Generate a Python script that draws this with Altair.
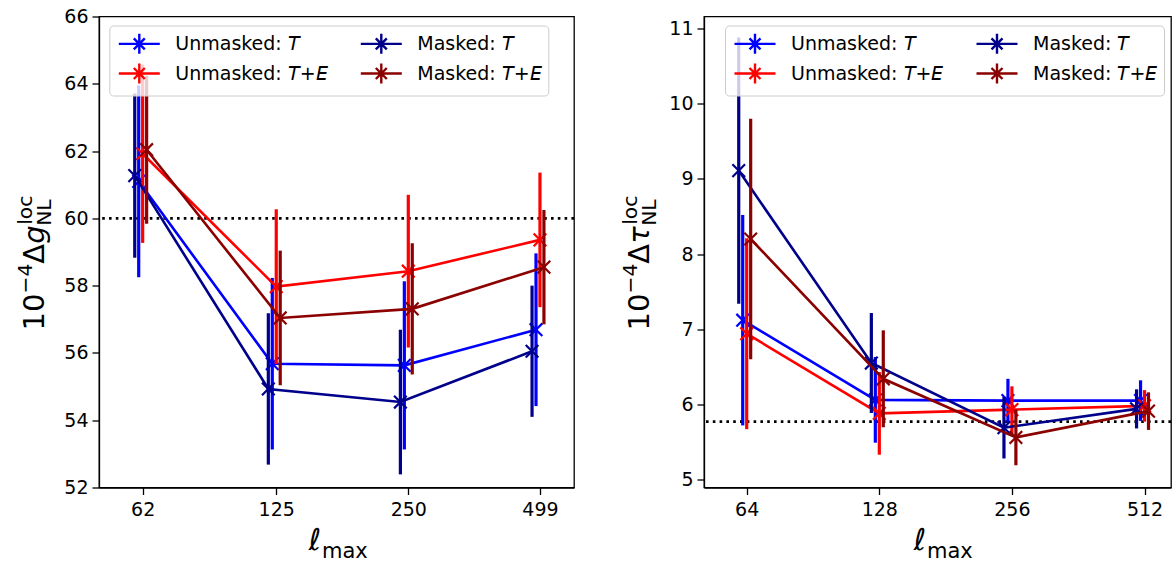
import altair as alt
import pandas as pd

# ---------------- data ----------------
series_names = ["Unmasked: \U0001D61B", "Unmasked: \U0001D61B+\U0001D60C",
                "Masked: \U0001D61B", "Masked: \U0001D61B+\U0001D60C"]

ell_g = [62, 125, 250, 499]
g_unmasked_T = [61.10, 55.68, 55.63, 56.69]
g_unmasked_T_err = [2.85, 2.55, 2.50, 2.27]
g_unmasked_TE = [61.92, 57.97, 58.43, 59.36]
g_unmasked_TE_err = [2.65, 2.30, 2.27, 2.00]
g_masked_T = [61.27, 54.93, 54.54, 56.05]
g_masked_T_err = [2.44, 2.25, 2.15, 1.95]
g_masked_TE = [62.04, 57.04, 57.31, 58.55]
g_masked_TE_err = [2.20, 2.00, 1.95, 1.70]
g_fiducial = [60.0]

ell_tau = [64, 128, 256, 512]
t_unmasked_T = [7.12, 6.06, 6.05, 6.05]
t_unmasked_T_err = [1.40, 0.57, 0.29, 0.27]
t_unmasked_TE = [6.94, 5.88, 5.93, 5.98]
t_unmasked_TE_err = [1.27, 0.55, 0.31, 0.21]
t_masked_T = [9.11, 6.55, 5.69, 5.94]
t_masked_T_err = [1.77, 0.665, 0.41, 0.26]
t_masked_TE = [8.20, 6.34, 5.56, 5.91]
t_masked_TE_err = [1.60, 0.645, 0.37, 0.25]
tau_fiducial = [5.77]

g_ticks = [52, 54, 56, 58, 60, 62, 64, 66]
tau_ticks = [5, 6, 7, 8, 9, 10, 11]

# ---------------- styles ----------------
series_colors = ["#0000ff", "#ff0000", "#00008b", "#8b0000"]
series_dodge = [-1, 0, -2, 1]
FONT = "DejaVu Sans"
W_L, W_R, H = 475, 467, 471


def make_df(ell, vals, errs):
    rows = []
    for name, dg, v, e in zip(series_names, series_dodge, vals, errs):
        for l, vv, ee in zip(ell, v, e):
            rows.append({"series": name, "ell": l,
                         "xp": l * 2 ** (0.03 * dg),
                         "val": vv, "lo": vv - ee, "hi": vv + ee})
    return pd.DataFrame(rows)


df_g = make_df(ell_g, [g_unmasked_T, g_unmasked_TE, g_masked_T, g_masked_TE],
               [g_unmasked_T_err, g_unmasked_TE_err, g_masked_T_err, g_masked_TE_err])
df_t = make_df(ell_tau, [t_unmasked_T, t_unmasked_TE, t_masked_T, t_masked_TE],
               [t_unmasked_T_err, t_unmasked_TE_err, t_masked_T_err, t_masked_TE_err])

legend_sym = "M-2.05,0L2.05,0M0,-1L0,1M-0.55,-0.55L0.55,0.55M-0.55,0.55L0.55,-0.55"
xmark = "M-1,-1L1,1M-1,1L1,-1"


def txt(s, x, y, size, angle=0, italic=False, align="left"):
    return alt.Chart(alt.Data(values=[{"a": 1}])).mark_text(
        text=s, fontSize=size, angle=angle, align=align, baseline="alphabetic",
        font=FONT, fontStyle="italic" if italic else "normal", color="black"
    ).encode(x=alt.value(x), y=alt.value(y))


def panel(df, ell, xdom, ydom, yticks, fid, symbol, legx, legy, width):
    xs = alt.Scale(type="log", domain=xdom, nice=False)
    ys = alt.Scale(domain=ydom, nice=False, zero=False)
    xax = alt.Axis(values=ell, format="d", title=None, grid=False)
    yax = alt.Axis(values=yticks, format="d", title=None, grid=False)
    cscale = alt.Scale(domain=series_names, range=series_colors)
    legend = alt.Legend(
        title=None, orient="none", legendX=legx, legendY=legy, columns=2,
        symbolType=legend_sym, symbolSize=400, symbolStrokeWidth=2.4,
        symbolFillColor="transparent", symbolOffset=12, labelOffset=24.5,
        labelFontSize=19, labelFont=FONT, labelColor="black", labelLimit=300,
        columnPadding=28, rowPadding=-1, padding=6.5,
        fillColor="rgba(255,255,255,0.8)", strokeColor="#cccccc", cornerRadius=4)

    layers = []
    for i, name in enumerate(series_names):
        d = df[df.series == name]
        col = alt.Color("series:N", scale=cscale, legend=legend if i == 0 else None)
        base = alt.Chart(d)
        layers.append(base.mark_rule(strokeWidth=3.2).encode(
            x=alt.X("xp:Q", scale=xs, axis=xax), y=alt.Y("lo:Q", scale=ys, axis=yax),
            y2="hi:Q", color=col))
        layers.append(base.mark_line(strokeWidth=2.6).encode(
            x=alt.X("xp:Q", scale=xs), y=alt.Y("val:Q", scale=ys), color=col))
        layers.append(base.mark_point(shape=xmark, filled=False, size=160, strokeWidth=2.2,
                                      opacity=1).encode(
            x=alt.X("xp:Q", scale=xs), y=alt.Y("val:Q", scale=ys), color=col))

    ref = alt.Chart(pd.DataFrame({"v": fid})).mark_rule(
        color="black", strokeWidth=2.6, strokeDash=[2.6, 4.2]).encode(
        y=alt.Y("v:Q", scale=ys))

    # axis titles
    F, S = 29, 20.3
    yb = -55
    pieces = []
    y = 314
    pieces.append(txt("10", yb, y, F, angle=270)); y -= 1.272 * F
    pieces.append(txt("\u22124", yb - 12, y, S, angle=270)); y -= 1.474 * S
    pieces.append(txt("\u0394", yb, y, F, angle=270)); y -= 0.684 * F
    pieces.append(txt(symbol, yb, y, F, angle=270, italic=True)); y -= 0.62 * F
    pieces.append(txt("loc", yb - 12, y - 1, S, angle=270))
    pieces.append(txt("NL", yb + 7, y, S, angle=270))
    pieces.append(txt("\u2113", 222, 533, 30, italic=True, align="right"))
    pieces.append(txt("max", 223, 541, 21))

    return alt.layer(ref, *layers, *pieces).properties(width=width, height=H)


left = panel(df_g, ell_g, [49.3, 596.6], [52, 66], g_ticks, g_fiducial, "g", 10.3, 9, W_L)
right = panel(df_t, ell_tau, [51.2, 588.0], [4.894, 11.16], tau_ticks, tau_fiducial,
              "\u03c4", 21, 9, W_R)

chart = alt.hconcat(left, right, spacing=130, bounds="flush").resolve_scale(
    color="independent").resolve_legend(color="independent").properties(
    padding={"left": 15, "top": 6.5, "right": 0, "bottom": 0}
).configure_view(stroke="black", strokeWidth=1.3).configure_axis(
    labelFontSize=19, labelFont=FONT, labelColor="black", tickColor="black",
    domainColor="black", tickSize=7, tickWidth=1.3, domainWidth=1.3, labelPadding=4,
    grid=False
).configure_axisX(labelPadding=6)

chart.save("out.html", embed_options={"renderer": "svg", "actions": False})
